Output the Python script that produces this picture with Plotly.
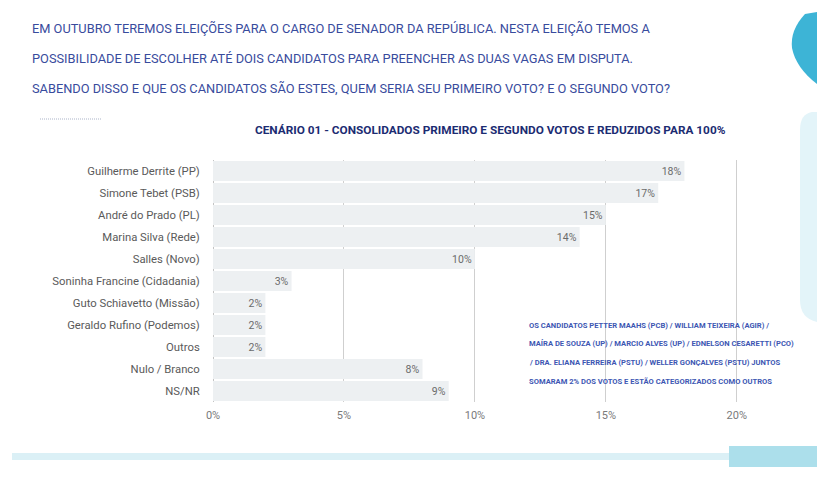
import plotly.graph_objects as go

candidatos = [
    "Guilherme Derrite (PP)",
    "Simone Tebet (PSB)",
    "André do Prado (PL)",
    "Marina Silva (Rede)",
    "Salles (Novo)",
    "Soninha Francine (Cidadania)",
    "Guto Schiavetto (Missão)",
    "Geraldo Rufino (Podemos)",
    "Outros",
    "Nulo / Branco",
    "NS/NR",
]
votos = [18, 17, 15, 14, 10, 3, 2, 2, 2, 8, 9]
x_ticks = [0, 5, 10, 15, 20]
x_labels = ["0%", "5%", "10%", "15%", "20%"]

titulo = [
    "EM OUTUBRO TEREMOS ELEIÇÕES PARA O CARGO DE SENADOR DA REPÚBLICA. NESTA ELEIÇÃO TEMOS A",
    "POSSIBILIDADE DE ESCOLHER ATÉ DOIS CANDIDATOS PARA PREENCHER AS DUAS VAGAS EM DISPUTA.",
    "SABENDO DISSO E QUE OS CANDIDATOS SÃO ESTES, QUEM SERIA SEU PRIMEIRO VOTO? E O SEGUNDO VOTO?",
]
subtitulo = "CENÁRIO 01 - CONSOLIDADOS PRIMEIRO E SEGUNDO VOTOS E REDUZIDOS PARA 100%"
nota = [
    "OS CANDIDATOS PETTER MAAHS (PCB) / WILLIAM TEIXEIRA (AGIR) /",
    "MAÍRA DE SOUZA (UP) / MARCIO ALVES (UP) / EDNELSON CESARETTI (PCO)",
    "/ DRA. ELIANA FERREIRA (PSTU) / WELLER GONÇALVES (PSTU) JUNTOS",
    "SOMARAM 2% DOS VOTOS E ESTÃO CATEGORIZADOS COMO OUTROS",
]

FONT = "Roboto, Liberation Sans, sans-serif"
W, H = 829, 479
L, R, T, B = 213, 66, 160, 77
pw, ph = W - L - R, H - T - B


def fx(x):
    return (x - L) / pw


def fy(y):
    return (H - B - y) / ph


fig = go.Figure(
    go.Bar(
        x=votos,
        y=candidatos,
        orientation="h",
        marker=dict(color="#edf0f2", line=dict(width=0)),
        text=[f"{v}%" for v in votos],
        textposition="inside",
        insidetextanchor="end",
        textfont=dict(family=FONT, size=10.5, color="#6b6b6b"),
        constraintext="none",
        cliponaxis=False,
    )
)

annotations = []
for i, linha in enumerate(titulo):
    annotations.append(dict(
        x=fx(30), y=fy(28 + 30 * i), xref="paper", yref="paper",
        text=linha, showarrow=False, xanchor="left", yanchor="middle",
        font=dict(family=FONT, size=12.8, color="#384b9d"),
    ))
annotations.append(dict(
    x=fx(490), y=fy(130), xref="paper", yref="paper",
    text="<b>" + subtitulo + "</b>", showarrow=False, xanchor="center", yanchor="middle",
    font=dict(family=FONT, size=11.8, color="#1c2c72"),
))
for i, linha in enumerate(nota):
    annotations.append(dict(
        x=fx(527), y=fy(325 + 18.7 * i), xref="paper", yref="paper",
        text="<b>" + linha + "</b>", showarrow=False, xanchor="left", yanchor="middle",
        font=dict(family=FONT, size=7.6, color="#3d57b3"),
    ))

shapes = [
    # small dotted line under the question
    dict(type="line", xref="paper", yref="paper", x0=fx(40), x1=fx(102), y0=fy(119), y1=fy(119),
         line=dict(color="#aab3c8", width=1, dash="1px,1px")),
    # top-right blue shape
    dict(type="path", xref="paper", yref="paper",
         path=f"M {fx(817)},{fy(12)} L {fx(805)},{fy(14)} Q {fx(790)},{fy(30)} {fx(792)},{fy(48)} "
              f"Q {fx(796)},{fy(68)} {fx(817)},{fy(84)} Z",
         fillcolor="#3db4d6", line=dict(width=0), layer="below"),
    # light rounded panel at right
    dict(type="path", xref="paper", yref="paper",
         path=f"M {fx(817)},{fy(112)} L {fx(812)},{fy(112)} Q {fx(800)},{fy(114)} {fx(800)},{fy(130)} "
              f"L {fx(800)},{fy(300)} Q {fx(800)},{fy(318)} {fx(817)},{fy(322)} Z",
         fillcolor="#e3f4f9", line=dict(width=0), layer="below"),
    # bottom light line
    dict(type="rect", xref="paper", yref="paper", x0=fx(12), x1=fx(800), y0=fy(453), y1=fy(460),
         fillcolor="#dbf0f6", line=dict(width=0), layer="below"),
    # bottom darker block
    dict(type="rect", xref="paper", yref="paper", x0=fx(729), x1=fx(817), y0=fy(446), y1=fy(467),
         fillcolor="#acdfeb", line=dict(width=0), layer="below"),
]

fig.update_layout(
    width=W,
    height=H,
    margin=dict(l=L, r=R, t=T, b=B, pad=0),
    paper_bgcolor="white",
    plot_bgcolor="white",
    showlegend=False,
    bargap=0.1,
    annotations=annotations,
    shapes=shapes,
    font=dict(family=FONT),
)
fig.update_xaxes(
    range=[0, 21],
    tickvals=x_ticks,
    ticktext=x_labels,
    showgrid=True,
    gridcolor="#cfcfcf",
    gridwidth=1,
    zeroline=True,
    zerolinecolor="#c4c4c4",
    zerolinewidth=1,
    showline=False,
    ticks="outside",
    ticklen=3,
    tickcolor="rgba(0,0,0,0)",
    tickfont=dict(family=FONT, size=11, color="#7a7a7a"),
    fixedrange=True,
)
fig.update_yaxes(
    categoryorder="array",
    categoryarray=candidatos[::-1],
    showgrid=False,
    ticks="outside",
    ticklen=10,
    tickcolor="rgba(0,0,0,0)",
    tickfont=dict(family=FONT, size=11.3, color="#5a5a5a"),
    fixedrange=True,
)

fig.write_html(
    "out.html",
    config={"displayModeBar": False},
    post_script="document.body.style.margin = '0';",
)
